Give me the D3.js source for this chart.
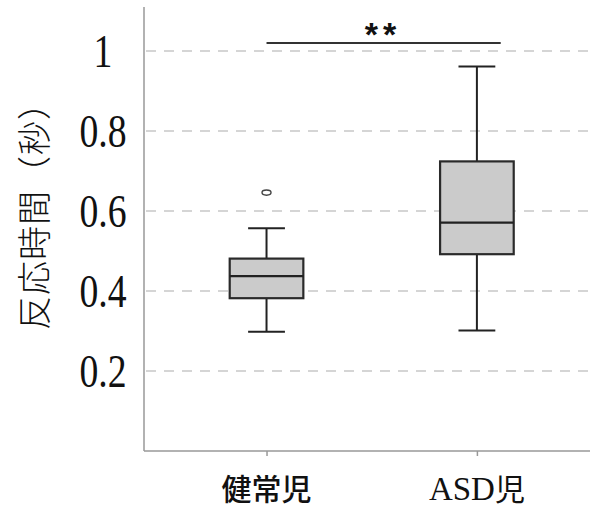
<!DOCTYPE html>
<html>
<head>
<meta charset="utf-8">
<script src="https://cdn.jsdelivr.net/npm/d3@7"></script>
<style>
  body { margin: 0; background: #fff; }
</style>
</head>
<body>
<script>
// groups and box statistics (seconds)
var groups = ["健常児", "ASD児"];
var whiskerLow = [0.298, 0.301];
var q1 = [0.382, 0.492];
var medians = [0.437, 0.571];
var q3 = [0.481, 0.724];
var whiskerHigh = [0.557, 0.961];
var outliers = [[0.646], []];
var yTicks = [0.2, 0.4, 0.6, 0.8, 1];
var sigLevel = 1.02;
var sigLabel = "**";
var yTitle = "反応時間（秒）";

var width = 593, height = 509;
var plotLeft = 144, plotRight = 590, plotTop = 7, plotBottom = 451;

var svg = d3.select("body").append("svg")
    .attr("width", width)
    .attr("height", height);

var y = d3.scaleLinear()
    .domain([0, 1.11])
    .range([plotBottom, plotTop]);

var x = d3.scalePoint()
    .domain(groups)
    .range([plotLeft, plotRight])
    .padding(0.56)
    .align(0.52);

var boxW = x.step() * 0.35;
var capW = boxW / 2;

// dashed grid lines
svg.selectAll(".grid")
    .data(yTicks)
    .enter()
    .append("line")
    .attr("class", "grid")
    .attr("x1", plotLeft + 2)
    .attr("x2", width)
    .attr("y1", function(d) { return y(d); })
    .attr("y2", function(d) { return y(d); })
    .style("stroke", "#c8c8c8")
    .style("stroke-width", 1.3)
    .style("stroke-dasharray", "10,8");

// axes
var xAxis = svg.append("g")
    .attr("transform", "translate(0," + plotBottom + ")")
    .call(d3.axisBottom(x).tickSize(5).tickFormat(""));
xAxis.select(".domain").attr("d", "M" + plotLeft + ",0H" + plotRight);
xAxis.selectAll("path, line").style("stroke", "#999").style("stroke-width", 1.5);

svg.append("line")
    .attr("x1", plotLeft).attr("x2", plotLeft)
    .attr("y1", plotTop).attr("y2", plotBottom)
    .style("stroke", "#999")
    .style("stroke-width", 1.5);

// y tick labels (narrow serif)
svg.selectAll(".ylab")
    .data(yTicks)
    .enter()
    .append("text")
    .attr("class", "ylab")
    .attr("transform", function(d) {
        return "translate(103," + (y(d) + 15.5) + ") scale(0.82,1)";
    })
    .attr("text-anchor", "middle")
    .style("font-family", "'Liberation Serif', serif")
    .style("font-size", "46px")
    .style("fill", "#111")
    .text(function(d) { return d3.format("")(d); });

// y title: one full-width cell per character so the brackets keep their width
var titleChars = Array.from(yTitle);
var cell = 35;
svg.append("g")
    .attr("transform", "translate(47,208) rotate(-90)")
    .selectAll("text")
    .data(titleChars)
    .enter()
    .append("text")
    .attr("x", function(d, i) { return (i - 3) * cell; })
    .attr("text-anchor", "middle")
    .style("font-family", "'Noto Sans CJK JP'")
    .style("font-weight", 300)
    .style("font-size", "34px")
    .style("fill", "#111")
    .text(function(d) { return d; });

// x labels
var xl = svg.selectAll(".xlab")
    .data(groups)
    .enter()
    .append("text")
    .attr("class", "xlab")
    .attr("x", function(d) { return x(d); })
    .attr("y", 500)
    .attr("text-anchor", "middle")
    .style("font-size", "30px")
    .style("fill", "#111");
xl.each(function(d) {
    var t = d3.select(this);
    var m = d.match(/^([A-Za-z]*)(.*)$/);
    if (m[1]) {
        t.append("tspan")
            .style("font-family", "'Liberation Serif', serif")
            .style("font-size", "33px")
            .text(m[1]);
    }
    t.append("tspan")
        .style("font-family", "'Noto Sans CJK JP'")
        .style("font-weight", m[1] ? 400 : 500)
        .text(m[2]);
});

// boxes
var idx = d3.range(groups.length);
var box = svg.selectAll(".box")
    .data(idx)
    .enter()
    .append("g")
    .attr("class", "box");

box.append("line")
    .attr("x1", function(i) { return x(groups[i]); })
    .attr("x2", function(i) { return x(groups[i]); })
    .attr("y1", function(i) { return y(whiskerLow[i]); })
    .attr("y2", function(i) { return y(whiskerHigh[i]); })
    .style("stroke", "#222")
    .style("stroke-width", 2);

box.selectAll(".cap")
    .data(function(i) { return [[i, whiskerLow[i]], [i, whiskerHigh[i]]]; })
    .enter()
    .append("line")
    .attr("class", "cap")
    .attr("x1", function(d) { return x(groups[d[0]]) - capW / 2; })
    .attr("x2", function(d) { return x(groups[d[0]]) + capW / 2; })
    .attr("y1", function(d) { return y(d[1]); })
    .attr("y2", function(d) { return y(d[1]); })
    .style("stroke", "#222")
    .style("stroke-width", 2);

box.append("rect")
    .attr("x", function(i) { return x(groups[i]) - boxW / 2; })
    .attr("width", boxW)
    .attr("y", function(i) { return y(q3[i]); })
    .attr("height", function(i) { return y(q1[i]) - y(q3[i]); })
    .style("fill", "#cbcbcb")
    .style("stroke", "#2a2a2a")
    .style("stroke-width", 2.2);

box.append("line")
    .attr("x1", function(i) { return x(groups[i]) - boxW / 2; })
    .attr("x2", function(i) { return x(groups[i]) + boxW / 2; })
    .attr("y1", function(i) { return y(medians[i]); })
    .attr("y2", function(i) { return y(medians[i]); })
    .style("stroke", "#222")
    .style("stroke-width", 2.2);

box.selectAll(".out")
    .data(function(i) { return outliers[i].map(function(v) { return [i, v]; }); })
    .enter()
    .append("ellipse")
    .attr("class", "out")
    .attr("cx", function(d) { return x(groups[d[0]]); })
    .attr("cy", function(d) { return y(d[1]); })
    .attr("rx", 4.5)
    .attr("ry", 2.6)
    .style("fill", "none")
    .style("stroke", "#444")
    .style("stroke-width", 1.4);

// significance bar
svg.append("line")
    .attr("x1", x(groups[0]))
    .attr("x2", x(groups[1]) + boxW / 2 - 13)
    .attr("y1", y(sigLevel))
    .attr("y2", y(sigLevel))
    .style("stroke", "#333")
    .style("stroke-width", 2.2);

svg.append("text")
    .attr("x", 383)
    .attr("y", 46)
    .attr("text-anchor", "middle")
    .style("font-family", "'Liberation Sans', sans-serif")
    .style("font-weight", "bold")
    .style("font-size", "34px")
    .style("letter-spacing", "5px")
    .style("fill", "#111")
    .text(sigLabel);
</script>
</body>
</html>
